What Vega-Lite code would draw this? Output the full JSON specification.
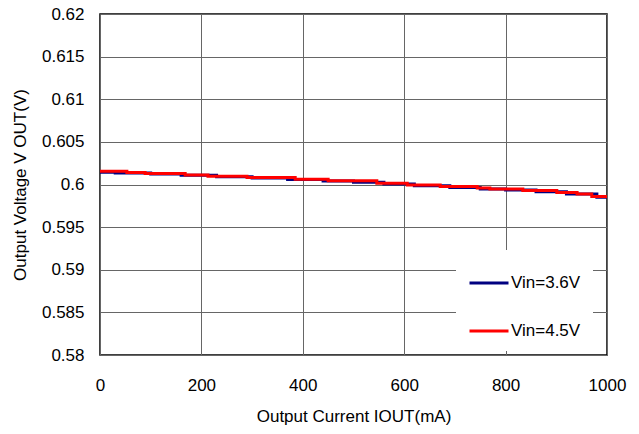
{
  "$schema": "https://vega.github.io/schema/vega-lite/v6.json",
  "width": 507,
  "height": 341,
  "autosize": {"type": "none"},
  "padding": {"left": 100, "top": 14, "right": 32, "bottom": 79},
  "background": "white",
  "config": {
    "font": "Liberation Sans",
    "view": {"stroke": "black", "strokeWidth": 1.5},
    "axis": {"labelFont": "Liberation Sans", "titleFont": "Liberation Sans", "labelFontSize": 17, "titleFontSize": 17, "labelColor": "black", "titleColor": "black", "titleFontWeight": "normal", "gridColor": "#666666", "gridWidth": 1, "gridOpacity": 1, "domain": false, "ticks": false, "labelFlush": false}
  },
  "data": {"values": [
    {"I": 0, "V": 0.60145, "s": "Vin=3.6V"},
    {"I": 30, "V": 0.60135, "s": "Vin=3.6V"},
    {"I": 100, "V": 0.60122, "s": "Vin=3.6V"},
    {"I": 160, "V": 0.60108, "s": "Vin=3.6V"},
    {"I": 230, "V": 0.6009, "s": "Vin=3.6V"},
    {"I": 300, "V": 0.60075, "s": "Vin=3.6V"},
    {"I": 370, "V": 0.60058, "s": "Vin=3.6V"},
    {"I": 440, "V": 0.6004, "s": "Vin=3.6V"},
    {"I": 500, "V": 0.60025, "s": "Vin=3.6V"},
    {"I": 560, "V": 0.60005, "s": "Vin=3.6V"},
    {"I": 620, "V": 0.59985, "s": "Vin=3.6V"},
    {"I": 690, "V": 0.59965, "s": "Vin=3.6V"},
    {"I": 750, "V": 0.59948, "s": "Vin=3.6V"},
    {"I": 800, "V": 0.59935, "s": "Vin=3.6V"},
    {"I": 860, "V": 0.59915, "s": "Vin=3.6V"},
    {"I": 920, "V": 0.5989, "s": "Vin=3.6V"},
    {"I": 980, "V": 0.5985, "s": "Vin=3.6V"},
    {"I": 1000, "V": 0.59835, "s": "Vin=3.6V"},
    {"I": 0, "V": 0.60155, "s": "Vin=4.5V"},
    {"I": 53, "V": 0.60142, "s": "Vin=4.5V"},
    {"I": 89, "V": 0.6013, "s": "Vin=4.5V"},
    {"I": 168, "V": 0.60112, "s": "Vin=4.5V"},
    {"I": 213, "V": 0.60098, "s": "Vin=4.5V"},
    {"I": 290, "V": 0.60082, "s": "Vin=4.5V"},
    {"I": 385, "V": 0.60062, "s": "Vin=4.5V"},
    {"I": 450, "V": 0.60045, "s": "Vin=4.5V"},
    {"I": 546, "V": 0.60015, "s": "Vin=4.5V"},
    {"I": 606, "V": 0.59995, "s": "Vin=4.5V"},
    {"I": 671, "V": 0.59978, "s": "Vin=4.5V"},
    {"I": 744, "V": 0.5996, "s": "Vin=4.5V"},
    {"I": 769, "V": 0.59948, "s": "Vin=4.5V"},
    {"I": 834, "V": 0.5993, "s": "Vin=4.5V"},
    {"I": 901, "V": 0.59905, "s": "Vin=4.5V"},
    {"I": 941, "V": 0.5989, "s": "Vin=4.5V"},
    {"I": 970, "V": 0.5986, "s": "Vin=4.5V"},
    {"I": 1000, "V": 0.5984, "s": "Vin=4.5V"}
  ]},
  "mark": {"type": "line", "interpolate": "step-after", "strokeWidth": 3, "clip": true},
  "encoding": {
    "x": {"field": "I", "type": "quantitative", "scale": {"domain": [0, 1000], "nice": false}, "axis": {"values": [0, 200, 400, 600, 800, 1000], "format": "d", "labelPadding": 22, "title": "Output Current IOUT(mA)", "titlePadding": 15}},
    "y": {"field": "V", "type": "quantitative", "scale": {"domain": [0.58, 0.62], "nice": false, "zero": false}, "axis": {"values": [0.58, 0.585, 0.59, 0.595, 0.6, 0.605, 0.61, 0.615, 0.62], "format": ".3~f", "labelPadding": 16, "title": "Output Voltage V OUT(V)", "titlePadding": 12}},
    "color": {"field": "s", "type": "nominal", "scale": {"domain": ["Vin=3.6V", "Vin=4.5V"], "range": ["#000080", "#ff0000"]}, "legend": {"title": null, "orient": "none", "legendX": 356, "legendY": 236, "fillColor": "white", "padding": 12, "symbolType": "stroke", "symbolSize": 1521, "symbolStrokeWidth": 3, "labelFontSize": 17, "labelFont": "Liberation Sans", "labelColor": "black", "labelOffset": 1, "rowPadding": 19, "strokeColor": null}},
    "order": {"field": "s"}
  }
}
